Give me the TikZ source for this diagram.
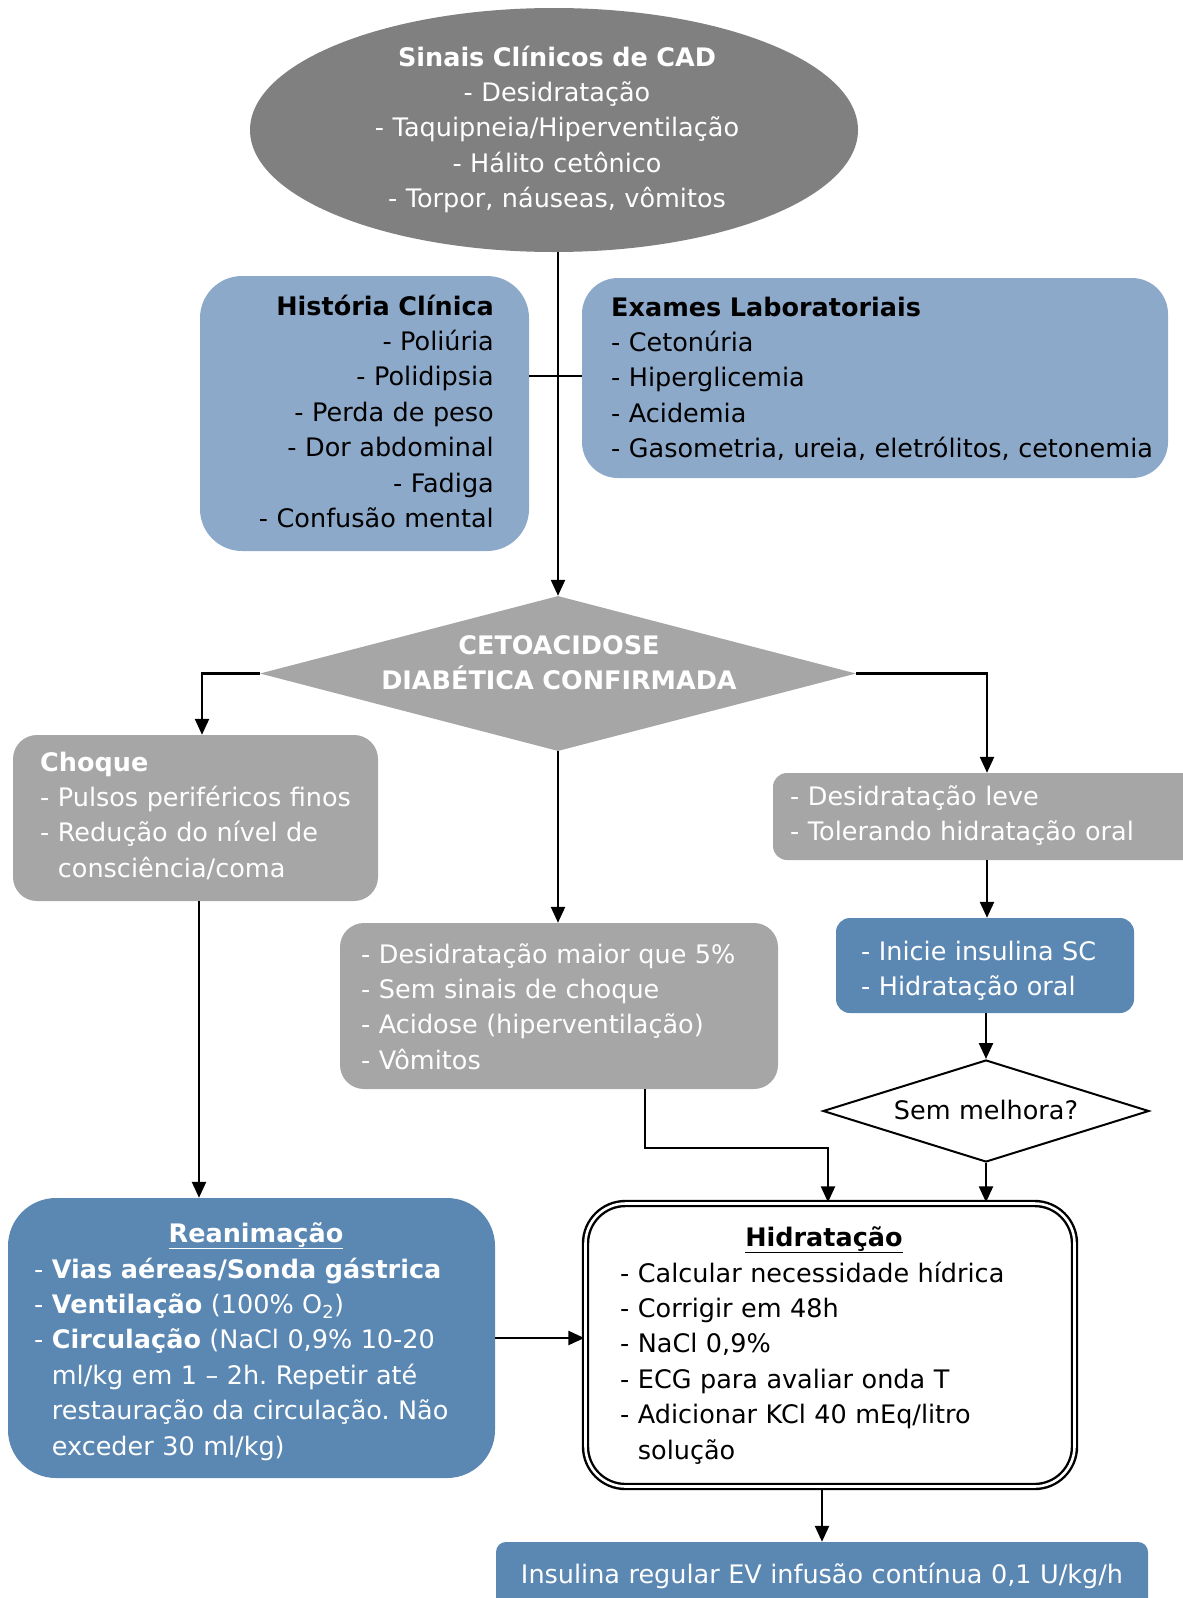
\documentclass[tikz,border=0pt]{standalone}
\usepackage{fontspec}
\setmainfont{DejaVu Sans}
\frenchspacing
\usetikzlibrary{arrows.meta,shapes.geometric}
\definecolor{dgray}{HTML}{808080}
\definecolor{mgray}{HTML}{A6A6A6}
\definecolor{lblue}{HTML}{8DA9CA}
\definecolor{dblue}{HTML}{5B87B3}
\tikzset{
  box/.style={rectangle, inner sep=0, draw=none},
  tx/.style={inner sep=0, font=\fontsize{25.5}{35.4}\selectfont},
  lt/.style={tx, text width=620, align=left, anchor=base west},
  rt/.style={tx, text width=400, align=right, anchor=base east},
  ct/.style={tx, text width=750, align=center, anchor=base},
  arr/.style={-{Triangle[length=16pt,width=14pt]}, line width=2.4pt},
  ln/.style={line width=2.4pt},
}
\begin{document}
\begin{tikzpicture}[x=1pt,y=-1pt]
\path[use as bounding box] (0,0) rectangle (1183,1598);
\clip (0,0) rectangle (1183,1598);
% shapes
\node[ellipse, fill=dgray, inner sep=0, minimum width=608, minimum height=244] (sinais) at (554,130) {};
\node[box, fill=lblue, rounded corners=42, minimum width=329, minimum height=275] (hist) at (364.5,413.5) {};
\node[box, fill=lblue, rounded corners=36, minimum width=586, minimum height=200] (exam) at (875,378) {};
\node[diamond, fill=mgray, inner sep=0, minimum width=596, minimum height=155] (cad) at (558,673.5) {};
\node[box, fill=mgray, rounded corners=24, minimum width=365, minimum height=166] (choque) at (195.5,818) {};
\node[box, fill=mgray, rounded corners=14, minimum width=430, minimum height=87] (leve) at (988,816.5) {};
\node[box, fill=dblue, rounded corners=14, minimum width=298, minimum height=95] (inicie) at (985,965.5) {};
\node[box, fill=mgray, rounded corners=24, minimum width=438, minimum height=166] (mid) at (559,1006) {};
\node[diamond, draw=black, line width=2pt, fill=white, inner sep=0, minimum width=326, minimum height=102] (sem) at (986,1111) {};
\node[box, fill=dblue, rounded corners=48, minimum width=487, minimum height=280] (rean) at (251.5,1338) {};
\node[box, draw=black, double, double distance=2.6pt, line width=2.4pt, fill=white, rounded corners=40, minimum width=489, minimum height=283] (hidr) at (830,1345) {};
\node[box, fill=dblue, rounded corners=10, minimum width=652, minimum height=90] (ins) at (822,1587) {};
% texts
\node[ct, text=white] (t-sinais) at (557,66) {\textbf{Sinais Clínicos de CAD}\\- Desidratação\\- Taquipneia/Hiperventilação\\- Hálito cetônico\\- Torpor, náuseas, vômitos};
\node[rt] (t-hist) at (494,315) {\textbf{História Clínica}\\- Poliúria\\- Polidipsia\\- Perda de peso\\- Dor abdominal\\- Fadiga\\- Confusão mental};
\node[lt] (t-exam) at (611,316) {\textbf{Exames Laboratoriais}\\- Cetonúria\\- Hiperglicemia\\- Acidemia\\- Gasometria, ureia, eletrólitos, cetonemia};
\node[ct, text=white] (t-cad) at (559,654) {\textbf{CETOACIDOSE}\\\textbf{DIABÉTICA CONFIRMADA}};
\node[lt, text=white] (t-choque) at (40,771) {\textbf{Choque}\\- Pulsos periféricos finos\\- Redução do nível de\\\phantom{- }consciência/coma};
\node[lt, text=white] (t-leve) at (790,805) {- Desidratação leve\\- Tolerando hidratação oral};
\node[lt, text=white] (t-inicie) at (861,960) {- Inicie insulina SC\\- Hidratação oral};
\node[lt, text=white] (t-mid) at (361,963) {- Desidratação maior que 5\%\\- Sem sinais de choque\\- Acidose (hiperventilação)\\- Vômitos};
\node[ct] (t-sem) at (986,1119) {Sem melhora?};
\node[ct, text=white] (t-rean-h) at (256,1242) {\underline{\textbf{Reanimação}}};
\node[lt, text=white] (t-rean) at (34,1278) {- \textbf{Vias aéreas/Sonda gástrica}\\- \textbf{Ventilação} (100\% O\textsubscript{2})\\- \textbf{Circulação} (NaCl 0,9\% 10-20\\\phantom{- }ml/kg em 1 – 2h. Repetir até\\\phantom{- }restauração da circulação. Não\\\phantom{- }exceder 30 ml/kg)};
\node[ct] (t-hidr-h) at (824,1246) {\underline{\textbf{Hidratação}}};
\node[lt] (t-hidr) at (620,1282) {- Calcular necessidade hídrica\\- Corrigir em 48h\\- NaCl 0,9\%\\- ECG para avaliar onda T\\- Adicionar KCl 40 mEq/litro\\\phantom{- }solução};
\node[ct, text=white] (t-ins) at (822,1583) {Insulina regular EV infusão contínua 0,1 U/kg/h};
% connectors
\coordinate (hj) at (558,376);
\coordinate (rx) at (987,0);
\coordinate (lx) at (202,0);
\coordinate (ax) at (199,0);
\coordinate (mx) at (645,1148);
\coordinate (hx) at (828,0);
\draw[arr] (sinais.south -| cad.north) -- (cad.north);
\draw[ln] (hist.east |- hj) -- (exam.west |- hj);
\draw[arr] (cad.west) -| (choque.north -| lx);
\draw[arr] (cad.east) -| (leve.north -| rx);
\draw[arr] (leve.south -| rx) -- (inicie.north -| rx);
\draw[arr] (inicie.south -| sem.north) -- (sem.north);
\draw[arr] (sem.south) -- (hidr.north -| sem.south);
\draw[arr] (cad.south) -- (mid.north -| cad.south);
\draw[arr] (mid.south -| mx) -- (mx) -| (hidr.north -| hx);
\draw[arr] (choque.south -| ax) -- (rean.north -| ax);
\draw[arr] (rean.east) -- (hidr.west |- rean.east);
\draw[arr] (hidr.south -| ins.north) -- (ins.north);
\end{tikzpicture}
\end{document}
